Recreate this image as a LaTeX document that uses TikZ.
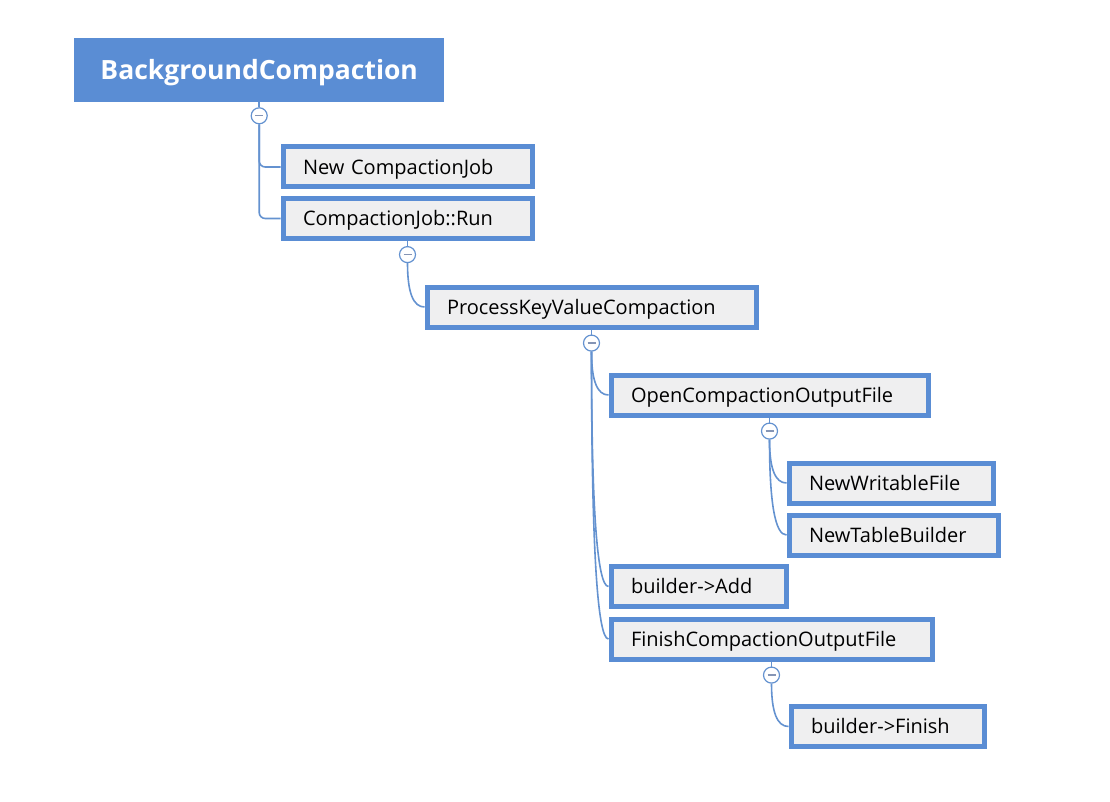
\documentclass[tikz,border=0pt]{standalone}
\usepackage{fontspec}
\setmainfont{Open Sans}
\usetikzlibrary{positioning,calc}
\definecolor{mapblue}{HTML}{5A8DD4}
\definecolor{boxgray}{HTML}{EFEFF0}
\definecolor{linkblue}{HTML}{6492D0}
\definecolor{minusgray}{HTML}{8595B5}
\tikzstyle{topic}=[fill=mapblue,text=white,minimum width=370pt,minimum height=64pt,
  anchor=west,inner sep=0pt,text height=19pt,text depth=-2pt,
  font=\fontsize{26.5}{30}\selectfont\bfseries]
\tikzstyle{item}=[draw=mapblue,line width=5pt,fill=boxgray,anchor=west,align=left,
  minimum height=40pt,inner xsep=20pt,inner ysep=0pt,text height=14.3pt,text depth=0pt,
  font=\fontsize{20}{24}\selectfont]
\tikzstyle{toggle}=[circle,draw=linkblue,line width=1.2pt,fill=white,minimum size=16pt,
  inner sep=0pt,path picture={\draw[minusgray,line width=1.4pt]
    ([xshift=-4pt]path picture bounding box.center) --
    ([xshift=4pt]path picture bounding box.center);}]
\tikzstyle{link}=[draw=linkblue,line width=1.6pt]
\tikzset{bend to/.style={to path={.. controls
  ($(\tikztostart)!0.667!(\tikztostart|-\tikztotarget)$) and
  ($(\tikztotarget)!0.667!(\tikztostart|-\tikztotarget)$) .. (\tikztotarget)}}}

\begin{document}
\begin{tikzpicture}[x=1pt,y=-1pt]
  \useasboundingbox (0,0) rectangle (1110,802);
  % boxes
  \node[topic] (root) at (74,70) {BackgroundCompaction};
  \node[item,text width=209pt] (newjob) at (280.5,167) {New CompactionJob};
  \node[item,text width=209pt] (run) at (280.5,218.5) {CompactionJob::Run};
  \node[item,text width=289pt] (process) at (424.5,307) {ProcessKeyValueCompaction};
  \node[item,text width=277pt] (open) at (608.5,395) {OpenCompactionOutputFile};
  \node[item,text width=164pt] (writable) at (786.5,483) {NewWritableFile};
  \node[item,text width=169pt] (builder) at (786.5,535) {NewTableBuilder};
  \node[item,text width=135pt] (add) at (608.5,586.5) {builder->Add};
  \node[item,text width=281pt] (finish) at (608.5,639) {FinishCompactionOutputFile};
  \node[item,text width=153pt] (bfinish) at (788.5,726.5) {builder->Finish};
  % collapse buttons
  \node[toggle,below=5pt of root] (rootT) {};
  \node[toggle,below=5pt of run] (runT) {};
  \node[toggle,below=5pt of process] (processT) {};
  \node[toggle,below=5pt of open] (openT) {};
  \node[toggle,below=5pt of finish] (finishT) {};
  % links
  \foreach \p in {root,run,process,open,finish}
    \draw[link] (\p.south) -- (\p T.north);
  \draw[link,rounded corners=6pt] (rootT.south) |- (newjob.west);
  \draw[link,rounded corners=6pt] (rootT.south) |- (run.west);
  \draw[link] (runT.south) to[bend to] (process.west);
  \foreach \c in {open,add,finish}
    \draw[link] (processT.south) to[bend to] (\c.west);
  \foreach \c in {writable,builder}
    \draw[link] (openT.south) to[bend to] (\c.west);
  \draw[link] (finishT.south) to[bend to] (bfinish.west);
\end{tikzpicture}
\end{document}
